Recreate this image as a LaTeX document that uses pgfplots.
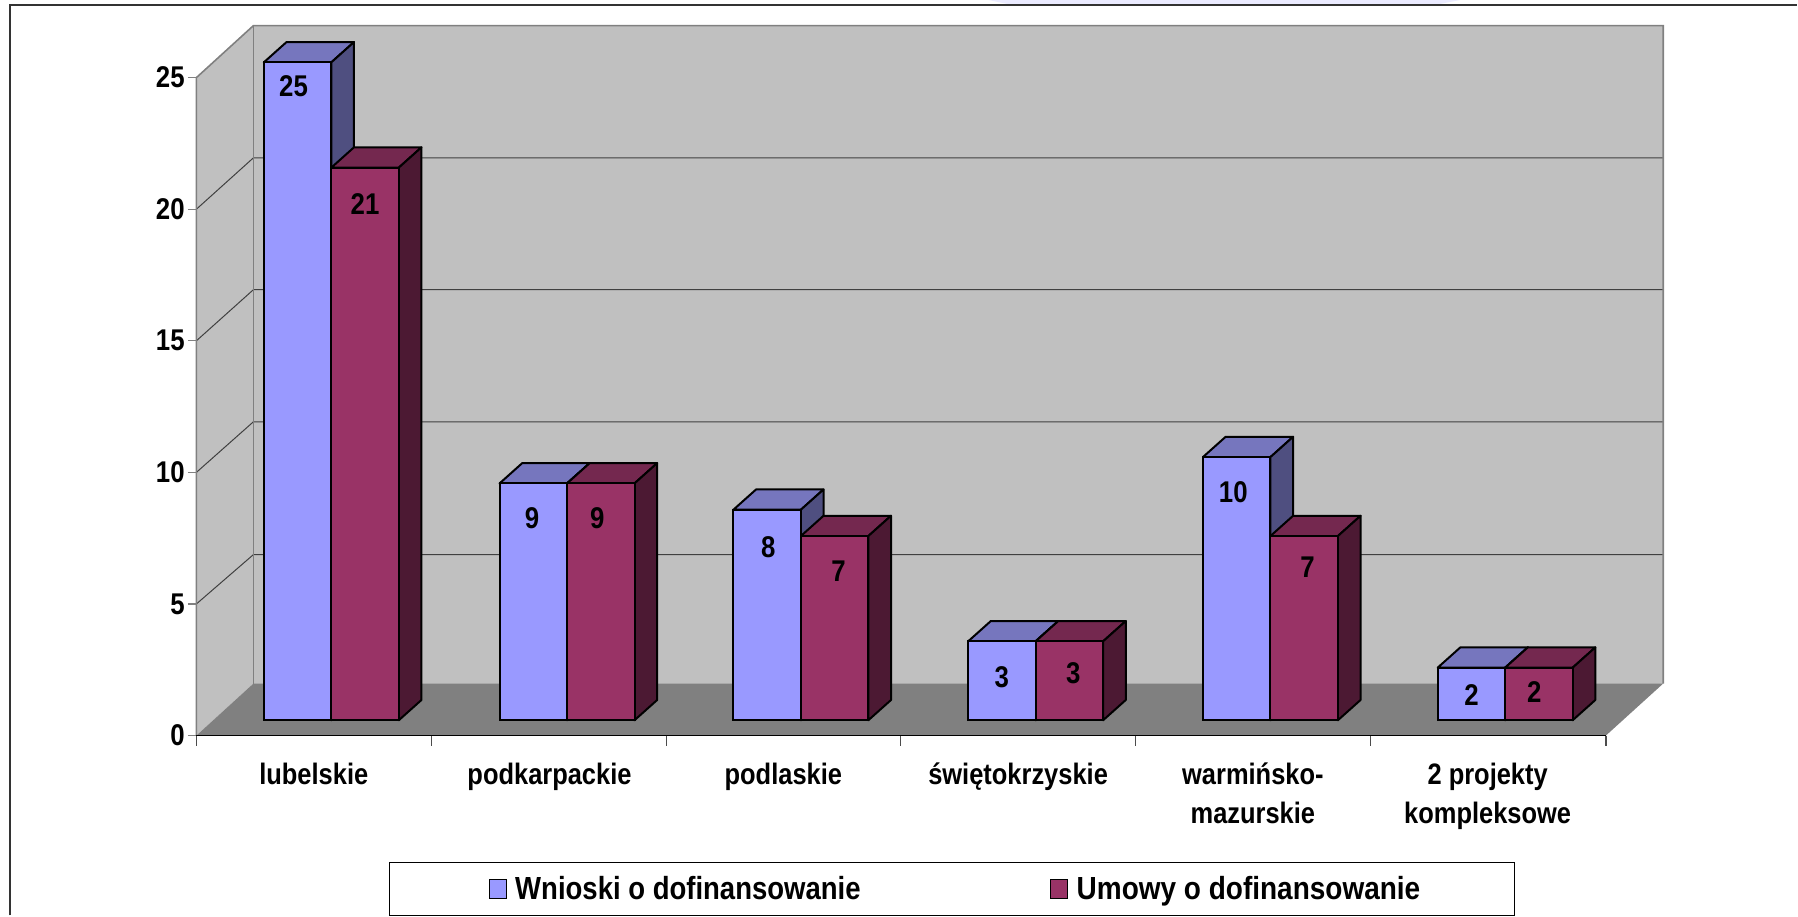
\documentclass[border=0pt]{standalone}
\usepackage{pgfplots}
\usepackage{pgfplotstable}
\usepackage{fontspec}
\pgfplotsset{compat=1.18}
\setmainfont[FakeStretch=0.86]{Liberation Sans}

\definecolor{wnioski}{HTML}{9999FF}
\definecolor{wnioskitop}{HTML}{7676BE}
\definecolor{wnioskiside}{HTML}{4F4F80}
\definecolor{umowy}{HTML}{993366}
\definecolor{umowytop}{HTML}{74284F}
\definecolor{umowyside}{HTML}{4C1933}
\definecolor{wall}{HTML}{C0C0C0}
\definecolor{floor}{HTML}{808080}

% x = bar centre, v = value, dx/dy = label offset from the bar top (pt)
\pgfplotstableread{
x      v   dx    dy
0.3563 25 -2.0 -12.0
1.3603 9  -0.6 -17.2
2.3563 8   0.6 -18.9
3.3563 3   0.0 -17.8
4.3563 10 -1.7 -17.8
5.3563 2   0.0 -13.8
}\wnioskitab
\pgfplotstableread{
x      v   dx    dy
0.6437 21  0.0 -18.3
1.6477 9  -1.7 -17.2
2.6437 7   2.0 -17.8
3.6437 3   2.0 -16.0
4.6437 7   1.7 -15.5
5.6437 2  -2.3 -12.0
}\umowytab

% top and side face of one bar: left, right, value, colours
\newcommand{\barfaces}[5]{%
  \pgfmathsetmacro{\xa}{#1+0.0966}%
  \pgfmathsetmacro{\xb}{#2+0.0966}%
  \pgfmathsetmacro{\yb}{#3+0.771}%
  \edef\temp{\noexpand\addplot[forget plot,fill=#4,draw=black,line width=1pt,line join=round]
    coordinates {(#1,#3) (#2,#3) (\xb,\yb) (\xa,\yb)} --cycle;
    \noexpand\addplot[forget plot,fill=#5,draw=black,line width=1pt,line join=round]
    coordinates {(#2,0) (#2,#3) (\xb,\yb) (\xb,0.771)} --cycle;}%
  \temp}

\begin{document}
\begin{tikzpicture}
\begin{axis}[
  x=117.45pt, y=13.165pt,
  xmin=-0.9112, xmax=6.743,
  ymin=-7.413, ymax=27.37,
  hide axis,
  clip=false,
  legend columns=2,
  legend style={
    at={(0.52975,0.0288)},anchor=center,
    draw=black,line width=0.5pt,
    font=\fontsize{16}{18}\selectfont\bfseries,
    inner xsep=45pt,inner ysep=4.7pt,
    nodes={inner xsep=2pt,inner ysep=2pt},
    /tikz/column 2/.style={column sep=88.3pt},
  },
  legend image code/.code={%
    \path (-4.3pt,0pt) (10.5pt,0pt);
    \draw[#1,line width=0.6pt] (0pt,-4.7pt) rectangle (8.5pt,4.7pt);},
  nodes near coords style={font=\fontsize{15}{18}\selectfont\bfseries},
]
% faint remnant along the top edge
\addplot[forget plot,fill=blue!8,draw=none] coordinates {(3.2993,27.37) (5.3086,27.37) (5.2,27.18) (3.4,27.18)} --cycle;
% outer frame
\addplot[forget plot,draw=black!80,line width=1pt] coordinates {(-0.8687,-7.413) (-0.8687,27.18) (6.743,27.18)};

% walls and floor
\addplot[forget plot,fill=wall,draw=none] coordinates {(-0.0747,-0.581) (0.168,1.394) (0.168,26.394) (-0.0747,24.419)} --cycle;
\addplot[forget plot,fill=wall,draw=none] coordinates {(0.168,1.394) (6.173,1.394) (6.173,26.394) (0.168,26.394)} --cycle;
\addplot[forget plot,fill=floor,draw=none] coordinates {(-0.0747,-0.581) (5.929,-0.581) (6.173,1.394) (0.168,1.394)} --cycle;

% gridlines
\addplot[forget plot,draw=black!75,line width=0.5pt] coordinates {(-0.0747,4.419) (0.168,6.293) (6.173,6.293)};
\addplot[forget plot,draw=black!75,line width=0.5pt] coordinates {(-0.0747,9.419) (0.168,11.34) (6.173,11.34)};
\addplot[forget plot,draw=black!75,line width=0.5pt] coordinates {(-0.0747,14.419) (0.168,16.36) (6.173,16.36)};
\addplot[forget plot,draw=black!75,line width=0.5pt] coordinates {(-0.0747,19.419) (0.168,21.37) (6.173,21.37)};
% wall edges
\addplot[forget plot,draw=floor,line width=0.8pt] coordinates {(-0.0747,-0.581) (-0.0747,24.419) (0.168,26.394) (6.173,26.394) (6.173,1.394)};
\addplot[forget plot,draw=floor,line width=0.8pt] coordinates {(0.168,1.394) (0.168,26.394)};

% value axis ticks
\addplot[forget plot,draw=floor,line width=0.6pt] coordinates {(-0.1109,-0.581) (-0.0747,-0.581)};
\addplot[forget plot,draw=floor,line width=0.6pt] coordinates {(-0.1109,4.419) (-0.0747,4.419)};
\addplot[forget plot,draw=floor,line width=0.6pt] coordinates {(-0.1109,9.419) (-0.0747,9.419)};
\addplot[forget plot,draw=floor,line width=0.6pt] coordinates {(-0.1109,14.419) (-0.0747,14.419)};
\addplot[forget plot,draw=floor,line width=0.6pt] coordinates {(-0.1109,19.419) (-0.0747,19.419)};
\addplot[forget plot,draw=floor,line width=0.6pt] coordinates {(-0.1109,24.419) (-0.0747,24.419)};
% category axis
\addplot[forget plot,draw=black,line width=0.8pt] coordinates {(-0.0747,-0.581) (5.929,-0.581)};
\addplot[forget plot,draw=black!70,line width=0.6pt] coordinates {(-0.0747,-0.581) (-0.0747,-0.961)};
\addplot[forget plot,draw=black!70,line width=0.6pt] coordinates {(0.9253,-0.581) (0.9253,-0.961)};
\addplot[forget plot,draw=black!70,line width=0.6pt] coordinates {(1.9293,-0.581) (1.9293,-0.961)};
\addplot[forget plot,draw=black!70,line width=0.6pt] coordinates {(2.9253,-0.581) (2.9253,-0.961)};
\addplot[forget plot,draw=black!70,line width=0.6pt] coordinates {(3.9253,-0.581) (3.9253,-0.961)};
\addplot[forget plot,draw=black!70,line width=0.6pt] coordinates {(4.9253,-0.581) (4.9253,-0.961)};
\addplot[forget plot,draw=black!70,line width=0.6pt] coordinates {(5.929,-0.581) (5.929,-0.961)};

% top and side faces, back to front
\barfaces{0.2126}{0.5}{25}{wnioskitop}{wnioskiside}
\barfaces{0.5}{0.7874}{21}{umowytop}{umowyside}
\barfaces{1.2166}{1.504}{9}{wnioskitop}{wnioskiside}
\barfaces{1.504}{1.7914}{9}{umowytop}{umowyside}
\barfaces{2.2126}{2.5}{8}{wnioskitop}{wnioskiside}
\barfaces{2.5}{2.7874}{7}{umowytop}{umowyside}
\barfaces{3.2126}{3.5}{3}{wnioskitop}{wnioskiside}
\barfaces{3.5}{3.7874}{3}{umowytop}{umowyside}
\barfaces{4.2126}{4.5}{10}{wnioskitop}{wnioskiside}
\barfaces{4.5}{4.7874}{7}{umowytop}{umowyside}
\barfaces{5.2126}{5.5}{2}{wnioskitop}{wnioskiside}
\barfaces{5.5}{5.7874}{2}{umowytop}{umowyside}

% front faces
\addplot[ybar,bar width=0.2874,bar shift=0pt,fill=wnioski,draw=black,line width=1pt,
  point meta=explicit symbolic,
  visualization depends on={\thisrow{dx}\as\labdx},
  visualization depends on={\thisrow{dy}\as\labdy},
  nodes near coords,
  every node near coord/.append style={anchor=center,inner sep=0pt,xshift=\labdx pt,yshift=\labdy pt,text=black},
] table[x=x,y=v,meta=v] {\wnioskitab};
\addlegendentry{Wnioski o dofinansowanie}
\addplot[ybar,bar width=0.2874,bar shift=0pt,fill=umowy,draw=black,line width=1pt,
  point meta=explicit symbolic,
  visualization depends on={\thisrow{dx}\as\labdx},
  visualization depends on={\thisrow{dy}\as\labdy},
  nodes near coords,
  every node near coord/.append style={anchor=center,inner sep=0pt,xshift=\labdx pt,yshift=\labdy pt,text=black},
] table[x=x,y=v,meta=v] {\umowytab};
\addlegendentry{\addfontfeature{FakeStretch=0.875}Umowy o dofinansowanie}

% tick labels
\tikzset{vlab/.style={anchor=east,inner sep=0pt,font=\fontsize{15}{18}\selectfont\bfseries},
  clab/.style={anchor=north,inner sep=0pt,align=center,font=\fontsize{14.8}{19.5}\selectfont\bfseries}}
\node[vlab] at (axis cs:-0.123,-0.581) {0};
\node[vlab] at (axis cs:-0.123,4.419) {5};
\node[vlab] at (axis cs:-0.123,9.419) {10};
\node[vlab] at (axis cs:-0.123,14.419) {15};
\node[vlab] at (axis cs:-0.123,19.419) {20};
\node[vlab] at (axis cs:-0.123,24.419) {25};
\node[clab] at (axis cs:0.4253,-1.606) {lubelskie};
\node[clab] at (axis cs:1.4293,-1.606) {podkarpackie};
\node[clab] at (axis cs:2.4253,-1.606) {podlaskie};
\node[clab] at (axis cs:3.4253,-1.606) {świętokrzyskie};
\node[clab] at (axis cs:4.4253,-1.606) {warmińsko-\\mazurskie};
\node[clab] at (axis cs:5.4253,-1.606) {2 projekty\\kompleksowe};

\path (rel axis cs:0,0) rectangle (rel axis cs:1,1);
\end{axis}
\end{tikzpicture}
\end{document}
